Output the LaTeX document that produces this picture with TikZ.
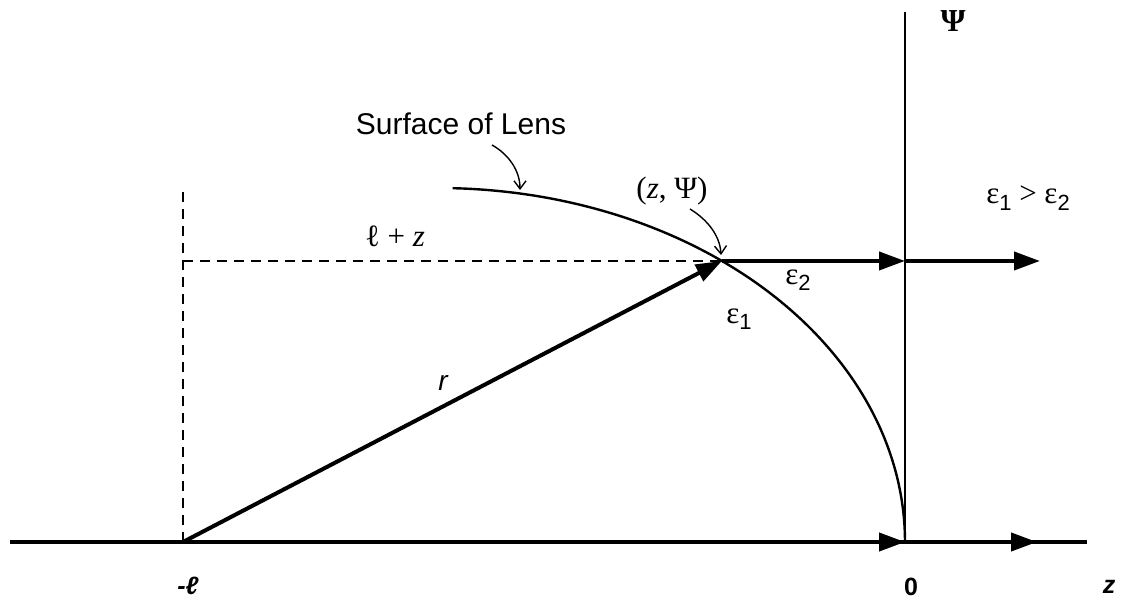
\documentclass[tikz,border=0pt]{standalone}
\usepackage{fontspec}
\setmainfont{Liberation Sans}
\newfontfamily\grk{Liberation Serif}
\usetikzlibrary{arrows.meta,positioning}

\newcommand{\lowidx}[1]{\raisebox{-0.45ex}{\fontsize{11}{12}\selectfont\rmfamily #1}}

\begin{document}
\begin{tikzpicture}[x=0.5pt,y=-0.5pt,
    axis/.style={line width=1.6pt},
    yax/.style={line width=1pt},
    vec/.style={-{Triangle[length=13pt,width=9pt]}, line width=2pt},
    guide/.style={line width=1.1pt, dash pattern=on 5pt off 3.5pt},
    lens/.style={line width=1.2pt},
    ptr/.style={-{Straight Barb[length=4pt,width=6pt]}, line width=0.7pt},
    surf/.style={font=\fontsize{15}{18}\selectfont, inner sep=0pt},
    mlbl/.style={font=\fontsize{15.5}{18}\selectfont\grk, inner sep=0pt},
    blbl/.style={font=\fontsize{12.5}{15}\selectfont\bfseries, inner sep=0pt}
]
\useasboundingbox (0,0) rectangle (1121,599);

\coordinate (O) at (905,542);
\coordinate (L) at (183,542);
\coordinate (P) at ({438+467*cos(52.55)},{542-354*sin(52.55)});
\coordinate (Q) at (P -| O);
\coordinate (E2) at (1040,0 |- P);
\coordinate (Zt) at (1037,542);
\coordinate (Ax0) at (10,542);
\coordinate (Ax1) at (1087,542);
\coordinate (Top) at (905,12);
\coordinate (Dtop) at (183,188);
\coordinate (Dmid) at (183,0 |- P);

% axes
\draw[axis] (Ax0) -- (Ax1);
\draw[yax] (O) -- (Top);
\draw[vec] (L) -- (O);
\draw[vec] (O) -- (Zt);

% lens surface
\draw[lens] plot[domain=88.2:0, samples=80, smooth] ({438+467*cos(\x)},{542-354*sin(\x)});

% dashed guides
\draw[guide] (L) -- (Dtop);
\draw[guide] (Dmid) -- (P);

% rays
\draw[vec] (L) -- (P);
\draw[vec] (P) -- (Q);
\draw[vec] (Q) -- (E2);

% labels
\node[surf] (surfL) at (461,124) {Surface of Lens};
\node[mlbl] (pt) at (672,191) {(\textit{z}, Ψ)};
\node[mlbl] (lz) at (395,236) {ℓ + \textit{z}};
\node[mlbl, font=\fontsize{16}{18}\selectfont\grk\bfseries] (psi) at (953,21) {Ψ};
\node[mlbl] (ineq) at (1028,198) {ε\lowidx{1} > ε\lowidx{2}};
\node[mlbl] (e2) at (798,280) {ε\lowidx{2}};
\node[mlbl] (e1) at (739,319) {ε\lowidx{1}};
\node[font=\fontsize{14}{16}\selectfont\itshape, inner sep=0pt] (rl) at (443,383) {r};
\node[blbl] (ml) at (188,586) {\itshape -ℓ};
\node[blbl] (zero) at (911,587) {0};
\node[blbl] (zl) at (1109,587) {\itshape z};

% pointers
\coordinate (s0) at (492,145);
\coordinate (s1) at (520,190);
\draw[ptr] (s0) .. controls (508,154) and (520,170) .. (s1);
\coordinate (p0) at (690,209);
\coordinate (p1) at (721,255);
\draw[ptr] (p0) .. controls (708,220) and (720,236) .. (p1);
\end{tikzpicture}
\end{document}
